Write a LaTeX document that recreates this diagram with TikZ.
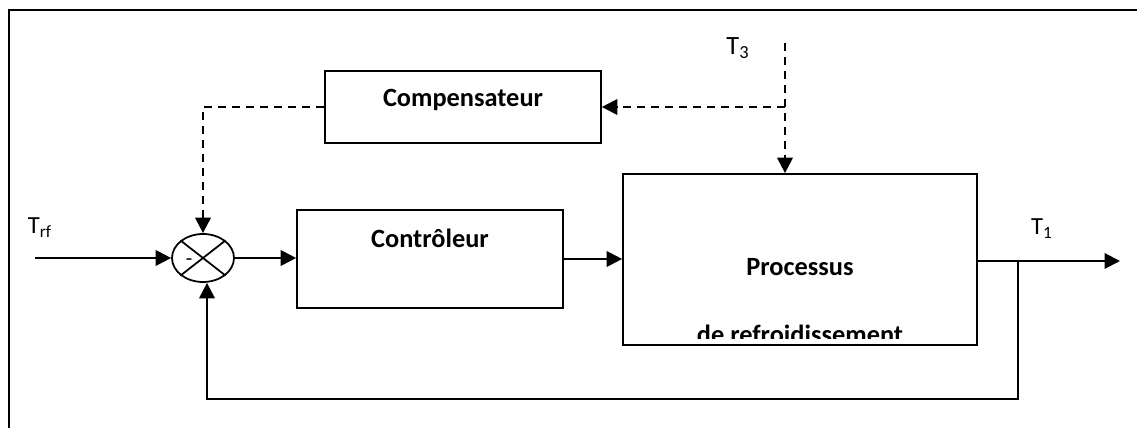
\documentclass[tikz,border=0pt]{standalone}
\usepackage{fontspec}
\setmainfont{Carlito}
\usetikzlibrary{arrows.meta,shapes.geometric}
\tikzset{
  blk/.style={draw, line width=1pt, rectangle, inner sep=0pt},
  btxt/.style={font=\fontsize{15}{18}\bfseries\selectfont, inner sep=0pt},
  lbl/.style={font=\fontsize{14}{17}\selectfont, inner sep=0pt},
  arr/.style={line width=1.2pt, -{Triangle[length=0.31cm,width=0.31cm]}},
  darr/.style={arr, dash pattern=on 0.17cm off 0.11cm},
  ln/.style={line width=1.2pt}
}
\begin{document}
\begin{tikzpicture}[x=0.02cm,y=-0.02cm]
\useasboundingbox (0,0) rectangle (1137,428);
\fill[white] (0,0) rectangle (1137,428);
% outer frame (left and top edges visible)
\draw[line width=1pt] (9,440) -- (9,10) -- (1150,10);

% blocks
\node[blk, minimum width=5.52cm, minimum height=1.44cm] (comp) at (463,107) {};
\node[btxt] (compt) at (463,100) {Compensateur};
\node[blk, minimum width=5.32cm, minimum height=1.96cm] (ctrl) at (430,259) {};
\node[btxt] (ctrlt) at (430,238) {Contrôleur};
\node[blk, minimum width=7.08cm, minimum height=3.42cm] (proc) at (800,259.5) {};
\node[btxt] (proct) at (800,267) {Processus};
\begin{scope}
  \clip (630,300) rectangle (970,339);
  \node[btxt, anchor=base] (proct2) at (800,344) {de refroidissement};
\end{scope}

% summing junction
\node[draw, line width=1pt, ellipse, minimum width=1.24cm, minimum height=0.96cm, inner sep=0pt] (sum) at (203,258) {};
\draw[line width=1pt] (sum.north west) -- (sum.south east);
\draw[line width=1pt] (sum.north east) -- (sum.south west);
\node[font=\fontsize{12}{14}\selectfont, inner sep=0pt] (minus) at (189,262) {-};

% labels
\node[lbl] (trf) at (40,228) {T\textsubscript{rf}};
\node[lbl, font=\fontsize{15}{18}\selectfont] (t3) at (738,48) {T\textsubscript{3}};
\node[lbl] (t1) at (1042,229) {T\textsubscript{1}};

% coordinates
\coordinate (in) at (35,258);
\coordinate (out) at (1120,261);
\coordinate (fb) at (1018,261);
\coordinate (fbc) at (1018,399);
\coordinate (t3top) at (785,43);
\coordinate (t3j) at (785,107);

% solid connectors
\draw[arr] (in) -- (sum.west);
\draw[arr] (sum.east) -- (sum.east -| ctrl.west);
\draw[arr] (ctrl.east) -- (ctrl.east -| proc.west);
\draw[arr] (proc.east |- out) -- (out);
\draw[arr] (fb) |- (fbc) -| ([xshift=0.08cm]sum.south);

% dashed connectors
\draw[darr] (t3top) -- (t3top |- proc.north);
\draw[darr] (t3j) -- (comp.east);
\draw[darr] (comp.west) -| (sum.north);
\end{tikzpicture}
\end{document}
